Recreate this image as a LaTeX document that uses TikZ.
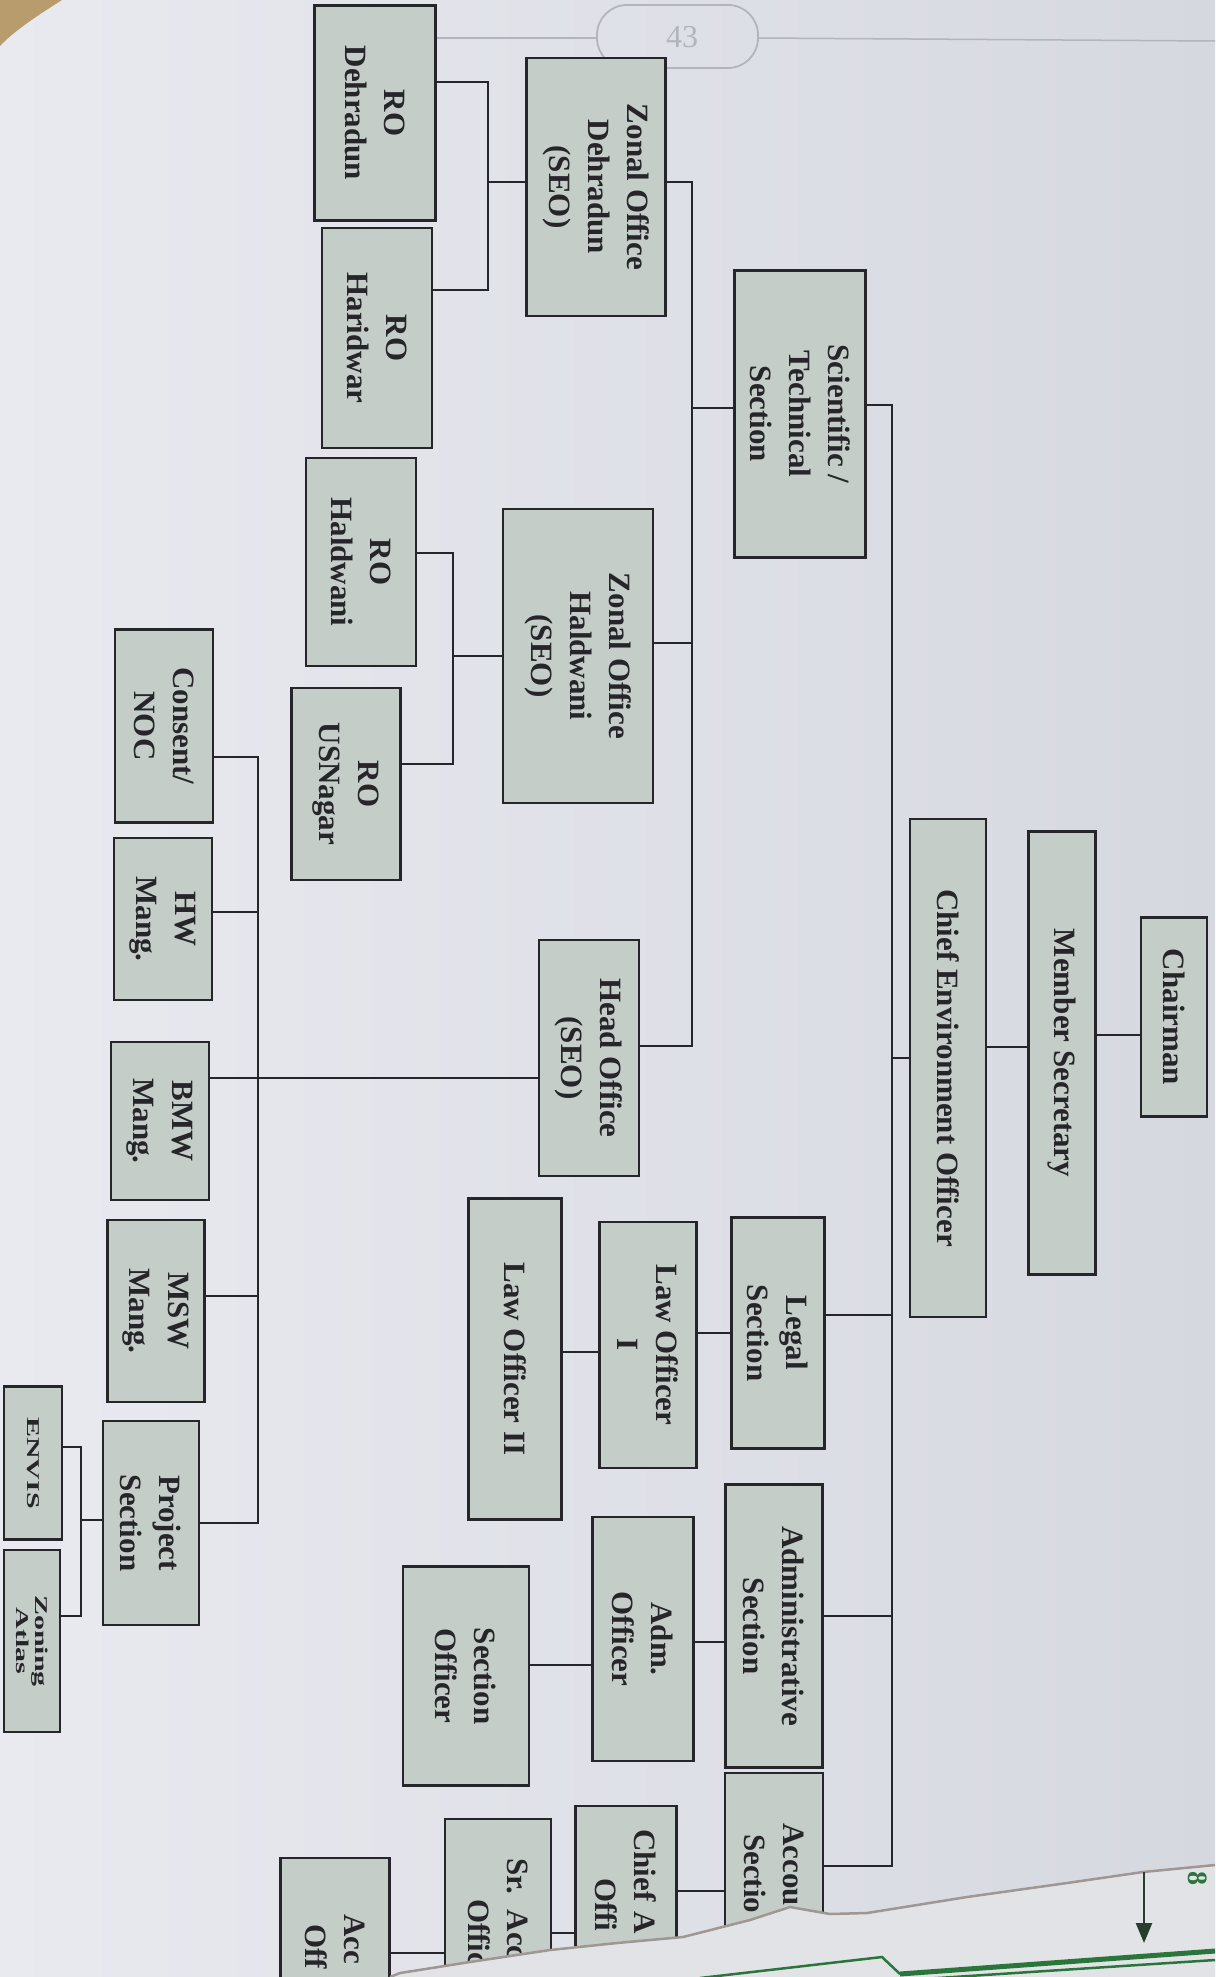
\documentclass[tikz,border=0pt]{standalone}
\usepackage{fontspec}
\setmainfont{Liberation Serif}
\usetikzlibrary{arrows.meta}
\definecolor{paperL}{RGB}{233,234,240}
\definecolor{paperR}{RGB}{214,216,224}
\definecolor{boxfill}{RGB}{196,205,200}
\definecolor{ink}{RGB}{38,38,42}
\definecolor{lowpage}{RGB}{226,227,231}
\definecolor{tearedge}{RGB}{160,150,146}
\definecolor{pgreen}{RGB}{42,118,58}
\definecolor{faint}{RGB}{178,181,190}
\definecolor{desk}{RGB}{184,156,110}

\begin{document}
\begin{tikzpicture}[x=1pt, y=1pt,
    office/.style={draw=ink, line width=2.4pt, fill=boxfill, rotate=-90, inner sep=0pt,
      align=center, text=ink, font=\fontsize{31}{39}\selectfont\bfseries},
    small office/.style={office, yscale=0.6, font=\fontsize{30}{31}\selectfont\bfseries},
    link/.style={draw=ink, line width=2.2pt}]

    \useasboundingbox (0,0) rectangle (1215,-1977);
    % the page
    \shade[left color=paperL, right color=paperR] (0,0) rectangle (1215,-1977);
    \fill[desk] (0,0) -- (62,0) .. controls (40,-14) and (15,-30) .. (0,-46) -- cycle;
    \draw[faint, line width=1.5pt] (434,-38) -- (597,-38);
    \draw[faint, line width=1.5pt] (758,-38) -- (1215,-41);
    \draw[faint, line width=1.8pt, rounded corners=30pt] (597,-5) rectangle (758,-68);
    \node[text=faint, font=\fontsize{32}{32}\selectfont] (pageno) at (682,-37) {43};

    % top of the chart
    \node[office, minimum width=199pt, minimum height=66pt] (chair) at (1174,-1017) {Chairman};
    \node[office, minimum width=443pt, minimum height=67pt] (msec) at (1062,-1053) {Member Secretary};
    \node[office, minimum width=498pt, minimum height=76pt] (ceo) at (948,-1068) {Chief Environment Officer};

    % sections
    \node[office, minimum width=287pt, minimum height=131pt] (sci) at (800,-414) {Scientific /\\Technical\\Section};
    \node[office, minimum width=231pt, minimum height=93pt] (legal) at (778,-1333) {Legal\\Section};
    \node[office, minimum width=283pt, minimum height=97pt] (admin) at (774,-1626) {Administrative\\Section};
    \node[office, anchor=west, minimum height=98pt, inner xsep=50pt, text width=160pt, align=left]
      (acc) at (774,-1772) {Accou\\\hspace*{11pt}Sectio};

    % offices
    \node[office, minimum width=258pt, minimum height=139pt] (zdeh) at (596,-187) {Zonal Office\\Dehradun\\(SEO)};
    \node[office, minimum width=294pt, minimum height=150pt] (zhal) at (578,-656) {Zonal Office\\Haldwani\\(SEO)};
    \node[office, minimum width=236pt, minimum height=100pt] (head) at (589,-1058) {Head Office\\(SEO)};
    \node[office, minimum width=246pt, minimum height=97pt] (law1) at (648,-1345) {Law Officer\\I};
    \node[office, minimum width=321pt, minimum height=93pt] (law2) at (515,-1359) {Law Officer II};
    \node[office, minimum width=244pt, minimum height=101pt] (admoff) at (643,-1639) {Adm.\\Officer};
    \node[office, minimum width=219pt, minimum height=126pt] (secoff) at (466,-1676) {Section\\Officer};
    \node[office, anchor=west, minimum height=101pt, inner xsep=23pt, text width=180pt, align=left]
      (chiefa) at (626,-1805) {Chief A\\\hspace*{49pt}Offi};
    \node[office, anchor=west, minimum height=106pt, inner xsep=39pt, text width=160pt, align=left]
      (sracc) at (498,-1818) {Sr. Acc\\\hspace*{41pt}Offic};
    \node[office, anchor=west, minimum height=109pt, inner xsep=56pt, text width=120pt, align=left]
      (accoff) at (335,-1857) {Acc\\\hspace*{10pt}Off};

    % regional offices and cells
    \node[office, minimum width=215pt, minimum height=121pt] (rodeh) at (375,-113) {RO\\Dehradun};
    \node[office, minimum width=220pt, minimum height=110pt] (rohar) at (377,-338) {RO\\Haridwar};
    \node[office, minimum width=208pt, minimum height=110pt] (rohal) at (361,-562) {RO\\Haldwani};
    \node[office, minimum width=192pt, minimum height=109pt] (rousn) at (346,-784) {RO\\USNagar};
    \node[office, minimum width=193pt, minimum height=98pt] (noc) at (164,-726) {Consent/\\NOC};
    \node[office, minimum width=162pt, minimum height=98pt] (hw) at (163,-919) {HW\\Mang.};
    \node[office, minimum width=158pt, minimum height=98pt] (bmw) at (160,-1121) {BMW\\Mang.};
    \node[office, minimum width=182pt, minimum height=97pt] (msw) at (156,-1311) {MSW\\Mang.};
    \node[office, minimum width=204pt, minimum height=96pt] (proj) at (151,-1523) {Project\\Section};
    \node[small office, minimum width=153pt, minimum height=97pt] (envis) at (33,-1463) {ENVIS};
    \node[small office, minimum width=182pt, minimum height=93pt] (zoning) at (32,-1641) {Zoning\\Atlas};

    % bus lines
    \coordinate (t1) at (892,-405);
    \coordinate (t1end) at (892,-1866);
    \coordinate (t2) at (692,-182);
    \coordinate (t2end) at (692,-1046);
    \coordinate (t3) at (488,-82);
    \coordinate (t3end) at (488,-290);
    \coordinate (t4) at (453,-553);
    \coordinate (t4end) at (453,-764);
    \coordinate (t5) at (258,-757);
    \coordinate (t5end) at (258,-1523);
    \coordinate (t6) at (81,-1447);
    \coordinate (t6end) at (81,-1616);

    \draw[link] (chair.south |- 0,-1035) -- (msec.north |- 0,-1035);
    \draw[link] (msec.south |- 0,-1047) -- (ceo.north |- 0,-1047);
    \draw[link] (ceo.south |- 0,-1058) -- (t1 |- 0,-1058);
    \draw[link] (sci.north |- t1) -- (t1) -- (t1end) -- (acc.north |- t1end);
    \draw[link] (legal.north |- 0,-1315) -- (t1 |- 0,-1315);
    \draw[link] (admin.north |- 0,-1616) -- (t1 |- 0,-1616);

    \draw[link] (zdeh.north |- t2) -- (t2) -- (t2end) -- (head.north |- t2end);
    \draw[link] (sci.south |- 0,-408) -- (t2 |- 0,-408);
    \draw[link] (zhal.north |- 0,-643) -- (t2 |- 0,-643);

    \draw[link] (rodeh.north |- t3) -- (t3) -- (t3end) -- (rohar.north |- t3end);
    \draw[link] (zdeh.south |- 0,-182) -- (t3 |- 0,-182);
    \draw[link] (rohal.north |- t4) -- (t4) -- (t4end) -- (rousn.north |- t4end);
    \draw[link] (zhal.south |- 0,-656) -- (t4 |- 0,-656);

    \draw[link] (noc.north |- t5) -- (t5) -- (t5end) -- (proj.north |- t5end);
    \draw[link] (hw.north |- 0,-912) -- (t5 |- 0,-912);
    \draw[link] (head.south |- 0,-1078) -- (bmw.north |- 0,-1078);
    \draw[link] (msw.north |- 0,-1296) -- (t5 |- 0,-1296);
    \draw[link] (envis.north |- t6) -- (t6) -- (t6end) -- (zoning.north |- t6end);
    \draw[link] (proj.south |- 0,-1520) -- (t6 |- 0,-1520);

    \draw[link] (legal.south |- 0,-1333) -- (law1.north |- 0,-1333);
    \draw[link] (law1.south |- 0,-1352) -- (law2.north |- 0,-1352);
    \draw[link] (admin.south |- 0,-1642) -- (admoff.north |- 0,-1642);
    \draw[link] (admoff.south |- 0,-1665) -- (secoff.north |- 0,-1665);
    \draw[link] (acc.south |- 0,-1891) -- (chiefa.north |- 0,-1891);
    \draw[link] (chiefa.south |- 0,-1933) -- (sracc.north |- 0,-1933);
    \draw[link] (sracc.south |- 0,-1953) -- (accoff.north |- 0,-1953);

    % torn edge and the page below
    \fill[lowpage] (390,-1977) -- (400,-1973) -- (470,-1962) -- (550,-1950) -- (617,-1943)
      -- (683,-1937) -- (750,-1920) -- (790,-1907) -- (830,-1914) -- (867,-1913)
      -- (967,-1897) -- (1067,-1883) -- (1143,-1872) -- (1215,-1865) -- (1215,-1977) -- cycle;
    \draw[tearedge, line width=2.5pt] (390,-1977) -- (400,-1973) -- (470,-1962) -- (550,-1950)
      -- (617,-1943) -- (683,-1937) -- (750,-1920) -- (790,-1907) -- (830,-1914) -- (867,-1913)
      -- (967,-1897) -- (1067,-1883) -- (1143,-1872) -- (1215,-1865);
    \draw[pgreen, line width=5pt] (900,-1974) -- (1215,-1951);
    \draw[pgreen, line width=2.5pt] (907,-1980) -- (1215,-1960);
    \draw[pgreen, line width=2.5pt] (700,-1978) -- (882,-1957) -- (900,-1974);
    \coordinate (arrtop) at (1144,-1872);
    \coordinate (arrend) at (1144,-1943);
    \draw[ink!70!pgreen, line width=2.5pt, -{Triangle[length=20pt, width=16pt]}] (arrtop) -- (arrend);
    \node[text=pgreen, rotate=-90, font=\fontsize{28}{28}\selectfont\bfseries] (mark) at (1198,-1878) {8};
\end{tikzpicture}
\end{document}
